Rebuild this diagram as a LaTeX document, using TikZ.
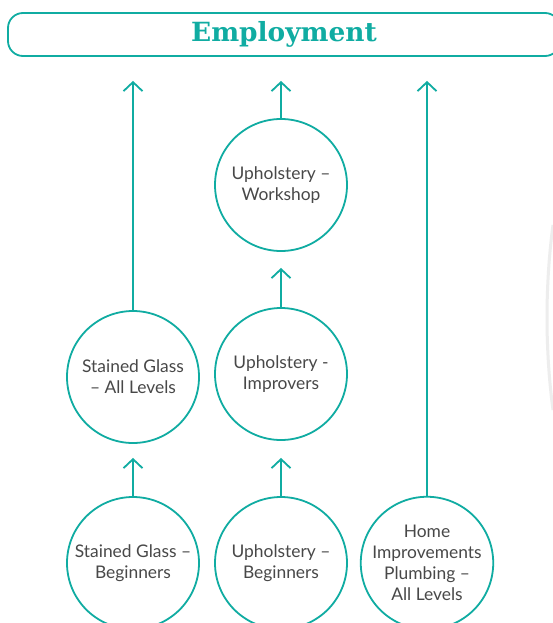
\documentclass[tikz,border=0pt]{standalone}
\usepackage{fontspec}
\setmainfont{Lato}
\newfontfamily\slabfont{DejaVu Serif}
\usetikzlibrary{arrows.meta}
\definecolor{teal}{RGB}{16,172,162}
\definecolor{txtgrey}{RGB}{72,72,72}

\begin{document}
\begin{tikzpicture}[x=1pt, y=-1pt,
    course/.style={circle, draw=teal, line width=1.8pt, minimum size=132pt, inner sep=0pt,
      align=center, text=txtgrey, font=\fontsize{17.4}{21}\selectfont},
    goal/.style={draw=teal, line width=1.8pt, rounded corners=15pt, minimum height=43pt,
      text=teal, font=\slabfont\bfseries\fontsize{26.4}{30}\selectfont},
    up/.style={draw=teal, line width=1.8pt, -{Straight Barb[length=9pt,width=19pt,line width=1.8pt]}}]
  \useasboundingbox (0,0) rectangle (553,623);
  \fill[white] (0,0) rectangle (553,623);
  % faint shadow edge at the right
  \draw[black!7, line width=3pt] (553,225) .. controls (545,285) and (545,350) .. (553,410);

  \node[goal, minimum width=552pt] (emp) at (284,34.5) {Employment};

  \node[course] (sgb) at (133,563) {Stained Glass --\\Beginners};
  \node[course] (sga) at (133,377) {Stained Glass\\-- All Levels};
  \node[course] (upb) at (281,563) {Upholstery --\\Beginners};
  \node[course] (upi) at (281,374) {Upholstery -\\Improvers};
  \node[course] (upw) at (281,185) {Upholstery --\\Workshop};
  \node[course] (hip) at (427,563) {Home\\Improvements\\Plumbing --\\All Levels};

  \draw[up, shorten >=14pt] (sgb) -- (sga);
  \draw[up, shorten >=24pt] (sga.north) -- (sga.north |- emp.south);
  \draw[up, shorten >=17pt] (upb) -- (upi);
  \draw[up, shorten >=16pt] (upi) -- (upw);
  \draw[up, shorten >=24pt] (upw.north) -- (upw.north |- emp.south);
  \draw[up, shorten >=24pt] (hip.north) -- (hip.north |- emp.south);
\end{tikzpicture}
\end{document}
